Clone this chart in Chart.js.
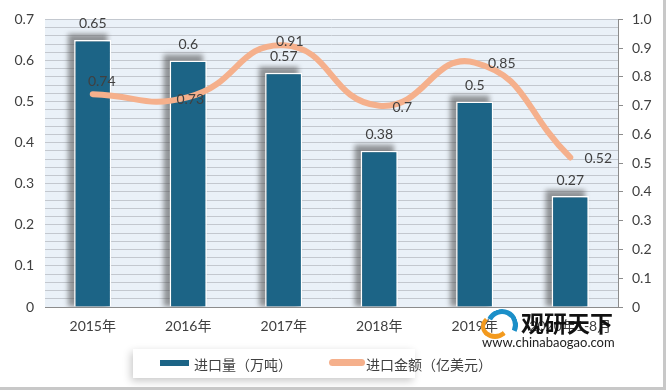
<!DOCTYPE html>
<html>
<head>
<meta charset="utf-8">
<script src="https://cdn.jsdelivr.net/npm/chart.js@4.4.0/dist/chart.umd.min.js"></script>
<style>
  html, body { margin: 0; padding: 0; background: #c8c8c8; }
  #wrap { position: relative; width: 663px; height: 387px; background: #fff; }
  #c { position: absolute; left: 0; top: 0; }
  .legend { position: absolute; left: 133px; top: 349px; width: 282px; height: 29px; background: #fff;
            box-shadow: -2px 3px 8px rgba(0,0,0,0.22); font: 14px "Noto Sans CJK SC", sans-serif; color: #404040; }
  .legend span { position: absolute; top: 5px; white-space: nowrap; }
  .sw { position: absolute; }
  .wm1 { position: absolute; left: 521px; top: 305px; font: bold 23px "Noto Sans CJK SC", sans-serif; color: #111; letter-spacing: 0px; }
  .wm2 { position: absolute; left: 482px; top: 334px; font: 13px Lato, "DejaVu Sans", sans-serif; color: #222; }
  .logo1 { position: absolute; left: 486px; top: 309px; width: 22px; height: 22px; border-radius: 50%;
           border-top: 5px solid #1b8fc8; border-right: 5px solid #1b8fc8; border-left: 5px solid transparent; border-bottom: 5px solid transparent; transform: rotate(-20deg); }
  .logo2 { position: absolute; left: 481px; top: 314px; width: 20px; height: 16px; border-radius: 50%;
           border-bottom: 5px solid #f39a1e; border-left: 4px solid #f39a1e; border-top: 4px solid transparent; border-right: 4px solid transparent; }
</style>
</head>
<body>
<div id="wrap">
  <canvas id="c" width="663" height="387"></canvas>
  <div class="legend">
    <div class="sw" style="left:27px;top:11px;width:29px;height:6px;background:#1c6486;"></div>
    <span style="left:61px;">进口量（万吨）</span>
    <div class="sw" style="left:196px;top:10px;width:36px;height:7px;border-radius:4px;background:#f5b08c;"></div>
    <span style="left:233px;">进口金额（亿美元）</span>
  </div>
  <div class="logo1"></div>
  <div class="logo2"></div>
  <div class="wm1">观研天下</div>
  <div class="wm2">www.chinabaogao.com</div>
</div>
<script>
var years = ['2015年', '2016年', '2017年', '2018年', '2019年', '2020年1-8月'];
var volume = [0.65, 0.6, 0.57, 0.38, 0.5, 0.27];   // 进口量（万吨）
var amount = [0.74, 0.73, 0.91, 0.7, 0.85, 0.52];  // 进口金额（亿美元）

var FONT = 'Lato, "Noto Sans CJK SC", sans-serif';
// label nudges for the line values, like the excel picture
var lineLabelShift = [[9, -13], [2, 2], [6, -4], [23, 2], [27, 1], [28, 1]];

var bgPlugin = {
  id: 'bg',
  beforeDraw: function (chart) {
    var a = chart.chartArea, ctx = chart.ctx;
    ctx.save();
    ctx.fillStyle = '#eaf1f8';
    ctx.fillRect(a.left, a.top, a.right - a.left, a.bottom - a.top);
    ctx.restore();
  }
};

// soft gray copy of each bar, pushed up-left and blurred
var shadowPlugin = {
  id: 'barShadow',
  beforeDatasetDraw: function (chart, args) {
    if (args.index !== 0) return;
    var ctx = chart.ctx, a = chart.chartArea;
    ctx.save();
    ctx.beginPath();
    ctx.rect(a.left, a.top, a.right - a.left, a.bottom - a.top);
    ctx.clip();
    ctx.filter = 'blur(2.5px)';
    ctx.fillStyle = 'rgba(70,70,70,0.55)';
    chart.getDatasetMeta(0).data.forEach(function (bar) {
      var w = bar.width;
      ctx.fillRect(bar.x - w / 2 - 6, bar.y - 6, w + 2, bar.base - bar.y + 6);
    });
    ctx.restore();
  }
};

var labelPlugin = {
  id: 'vals',
  afterDatasetsDraw: function (chart) {
    var ctx = chart.ctx;
    ctx.save();
    ctx.font = '14px ' + FONT;
    ctx.fillStyle = '#404040';
    ctx.textAlign = 'center';
    ctx.textBaseline = 'middle';
    chart.getDatasetMeta(0).data.forEach(function (bar, i) {
      ctx.fillText(String(volume[i]), bar.x, bar.y - 16);
    });
    chart.getDatasetMeta(1).data.forEach(function (pt, i) {
      var s = lineLabelShift[i];
      ctx.fillText(String(amount[i]), pt.x + s[0], pt.y + s[1]);
    });
    ctx.restore();
  }
};

var ctx = document.getElementById('c');
var chart = new Chart(ctx, {
  data: {
    labels: years,
    datasets: [
      {
        type: 'bar',
        label: '进口量（万吨）',
        data: volume,
        yAxisID: 'y',
        backgroundColor: '#1c6486',
        borderColor: '#ffffff',
        borderWidth: 1.5,
        barPercentage: 0.78,
        categoryPercentage: 0.5,
        order: 2
      },
      {
        type: 'line',
        label: '进口金额（亿美元）',
        data: amount,
        yAxisID: 'y1',
        borderColor: '#f5b08c',
        borderWidth: 6,
        borderCapStyle: 'round',
        tension: 0.5,
        pointRadius: 0,
        fill: false,
        order: 1
      }
    ]
  },
  options: {
    responsive: false,
    animation: false,
    layout: { padding: { top: 17, bottom: 50, left: 0, right: 0 } },
    plugins: { legend: { display: false }, tooltip: { enabled: false } },
    scales: {
      x: {
        grid: { display: false, drawTicks: false },
        border: { display: true, color: '#8c8c8c', width: 1 },
        ticks: { color: '#404040', font: { family: FONT, size: 14 }, padding: 11, maxRotation: 0 },
        afterFit: function (s) { s.height = 30; }
      },
      y: {
        position: 'left',
        min: 0, max: 0.7,
        grid: { color: '#c3c8cf', drawTicks: false },
        border: { display: false },
        ticks: {
          stepSize: 0.02,
          autoSkip: false,
          padding: 11,
          color: '#404040',
          font: { family: FONT, size: 14 },
          callback: function (v) {
            var t = Math.round(v * 100);
            return t % 10 === 0 ? String(t / 100) : '';
          }
        },
        afterFit: function (s) { s.width = 45; }
      },
      y1: {
        position: 'right',
        min: 0, max: 1,
        grid: { drawOnChartArea: false, drawTicks: true, tickLength: 5, color: '#8c8c8c' },
        border: { display: true, color: '#8c8c8c', width: 1 },
        ticks: { stepSize: 0.1, padding: 9, color: '#404040', font: { family: FONT, size: 14 } },
        afterFit: function (s) { s.width = 45; }
      }
    }
  },
  plugins: [bgPlugin, shadowPlugin, labelPlugin]
});
</script>
</body>
</html>
